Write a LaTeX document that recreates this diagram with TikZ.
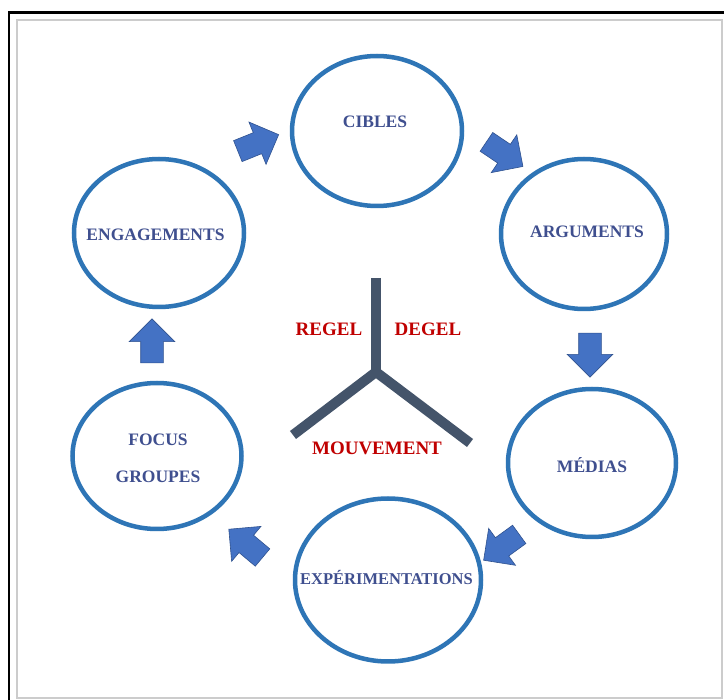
\documentclass[tikz,border=0pt]{standalone}
\usepackage{fontspec}
\setmainfont{Liberation Serif}
\usetikzlibrary{shapes.geometric,shapes.arrows}

\definecolor{ringblue}{HTML}{2E75B6}
\definecolor{textblue}{HTML}{3F4F8F}
\definecolor{arrowblue}{HTML}{4472C4}
\definecolor{arrowedge}{HTML}{2F528F}
\definecolor{ydark}{HTML}{44546A}
\definecolor{labelred}{HTML}{C00000}

\begin{document}
\begin{tikzpicture}
        [
            x                  = 1pt,
            y                  = -1pt,
            bubble/.style      = {shape=ellipse, draw=ringblue, line width=4.5pt, inner sep=0pt},
            bubbletext/.style  = {text=textblue, font=\bfseries\fontsize{17.5}{37}\selectfont, align=center, anchor=base},
            blockarrow/.style  = {shape=single arrow, fill=arrowblue, draw=arrowedge, line width=0.6pt,
                                  minimum height=44pt, minimum width=45pt,
                                  single arrow head extend=11.5pt, inner xsep=0pt, inner ysep=11pt},
            redlabel/.style    = {text=labelred, font=\bfseries\fontsize{19}{22}\selectfont, anchor=base},
            ybar/.style        = {draw=ydark, line width=10pt},
        ]
        \clip (0,0) rectangle (724,700);
        \fill [white] (0,0) rectangle (724,700);
        \draw [line width=2.5pt] (9,12.5) rectangle (780,780);
        \draw [black!20, line width=1.2pt] (17,20) rectangle (722,698);

        % the six stages
        \node [bubble, minimum width=170pt, minimum height=150pt] (cib) at (377,131) {};
        \node [bubble, minimum width=166pt, minimum height=150pt] (arg) at (584,234) {};
        \node [bubble, minimum width=168pt, minimum height=148pt] (med) at (592,463) {};
        \node [bubble, minimum width=186pt, minimum height=163pt] (exp) at (388,580) {};
        \node [bubble, minimum width=169pt, minimum height=146pt] (foc) at (157,456) {};
        \node [bubble, minimum width=170pt, minimum height=148pt] (eng) at (159,233) {};

        \node [bubbletext] (cib-t) at (375,128) {CIBLES};
        \node [bubbletext] (arg-t) at (587,238) {ARGUMENTS};
        \node [bubbletext] (med-t) at (592,473) {MÉDIAS};
        \node [bubbletext, font=\bfseries\fontsize{16.5}{20}\selectfont] (exp-t) at (386.5,584.5) {EXPÉRIMENTATIONS};
        \node [bubbletext] (foc-t) at (158,483) {FOCUS\\GROUPES};
        \node [bubbletext] (eng-t) at (155.5,241) {ENGAGEMENTS};

        % block arrows between stages
        \node [blockarrow, rotate=22]   (a1) at (253,145) {};
        \node [blockarrow, rotate=-34]  (a2) at (500,151) {};
        \node [blockarrow, rotate=-90]  (a3) at (590,349.5) {};
        \node [blockarrow, rotate=216]  (a4) at (506,544) {};
        \node [blockarrow, rotate=140]  (a5) at (250,547) {};
        \node [blockarrow, rotate=90]   (a6) at (152,346.5) {};

        % centre
        \coordinate (ytop) at (376,278);
        \coordinate (ymid) at (376,372);
        \coordinate (yleft) at (293,435);
        \coordinate (yright) at (470,443);
        \draw [ybar] (ytop) -- (ymid);
        \draw [ybar, line join=miter] (yleft) -- (ymid) -- (yright);

        \node [redlabel] (regel) at (329,336) {REGEL};
        \node [redlabel] (degel) at (428,336) {DEGEL};
        \node [redlabel] (mouv) at (377,455) {MOUVEMENT};
\end{tikzpicture}
\end{document}
